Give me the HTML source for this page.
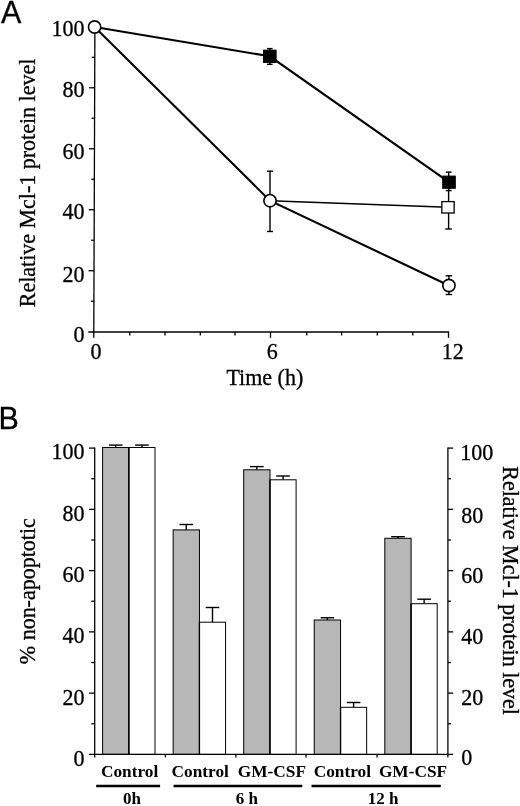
<!DOCTYPE html>
<html><head><meta charset="utf-8"><title>Figure</title>
<style>html,body{margin:0;padding:0;background:#fff;}body{width:520px;height:806px;overflow:hidden;}svg{display:block;will-change:transform;opacity:0.999;}
text{font-family:"Liberation Serif",serif;fill:#000;}
.sans{font-family:"Liberation Sans",sans-serif;}
.b{font-weight:bold;}
</style></head><body>
<svg width="520" height="806" viewBox="0 0 520 806">
<rect x="0" y="0" width="520" height="806" fill="#fff"/>
<text class="sans" transform="translate(0.9,22.9) scale(1,1.02)" font-size="30.5" stroke="#000" stroke-width="0.3">A</text>
<g stroke="#000" stroke-width="1.3" fill="none" stroke-linecap="butt">
<line x1="94.9" y1="27" x2="93.78" y2="337.8"/>
<line x1="88.3" y1="332.0" x2="449.15" y2="332.0"/>
<line x1="90.91" y1="301.21" x2="93.91" y2="301.21"/>
<line x1="88.52" y1="270.72" x2="94.02" y2="270.72"/>
<line x1="91.13" y1="240.23" x2="94.13" y2="240.23"/>
<line x1="88.74" y1="209.74" x2="94.24" y2="209.74"/>
<line x1="91.35" y1="179.25" x2="94.35" y2="179.25"/>
<line x1="88.96" y1="148.76" x2="94.46" y2="148.76"/>
<line x1="91.57" y1="118.27" x2="94.57" y2="118.27"/>
<line x1="89.18" y1="87.78" x2="94.68" y2="87.78"/>
<line x1="91.79" y1="57.29" x2="94.79" y2="57.29"/>
<line x1="89.40" y1="26.80" x2="94.90" y2="26.80"/>
<line x1="129.8" y1="332.0" x2="129.8" y2="335.5"/>
<line x1="165.0" y1="332.0" x2="165.0" y2="335.5"/>
<line x1="200.3" y1="332.0" x2="200.3" y2="335.5"/>
<line x1="235.0" y1="332.0" x2="235.0" y2="335.5"/>
<line x1="270.5" y1="332.0" x2="270.5" y2="337.8"/>
<line x1="306.8" y1="332.0" x2="306.8" y2="335.5"/>
<line x1="341.6" y1="332.0" x2="341.6" y2="335.5"/>
<line x1="377.3" y1="332.0" x2="377.3" y2="335.5"/>
<line x1="412.8" y1="332.0" x2="412.8" y2="335.5"/>
<line x1="448.5" y1="332.0" x2="448.5" y2="337.8"/>
</g>
<text transform="translate(84.4,35.5) scale(1,1.05)" font-size="22" text-anchor="end" stroke="#000" stroke-width="0.3">100</text>
<text transform="translate(84.4,97.4) scale(1,1.05)" font-size="22" text-anchor="end" stroke="#000" stroke-width="0.3">80</text>
<text transform="translate(84.4,158.6) scale(1,1.05)" font-size="22" text-anchor="end" stroke="#000" stroke-width="0.3">60</text>
<text transform="translate(84.4,219.3) scale(1,1.05)" font-size="22" text-anchor="end" stroke="#000" stroke-width="0.3">40</text>
<text transform="translate(84.4,281.5) scale(1,1.05)" font-size="22" text-anchor="end" stroke="#000" stroke-width="0.3">20</text>
<text transform="translate(84.4,342.3) scale(1,1.05)" font-size="22" text-anchor="end" stroke="#000" stroke-width="0.3">0</text>
<text transform="translate(90.4,359.1) scale(1,1.05)" font-size="22" stroke="#000" stroke-width="0.3">0</text>
<text transform="translate(266.8,359.1) scale(1,1.05)" font-size="22" stroke="#000" stroke-width="0.3">6</text>
<text transform="translate(441.8,359.1) scale(1,1.05)" font-size="22" stroke="#000" stroke-width="0.3">12</text>
<text transform="translate(264.8,385.2) scale(1,1.03)" font-size="22" text-anchor="middle" stroke="#000" stroke-width="0.3">Time (h)</text>
<text transform="translate(35.2,183) rotate(-90) scale(1,1.03)" font-size="22" text-anchor="middle" stroke="#000" stroke-width="0.3">Relative Mcl-1 protein level</text>
<polyline points="94.60,27.00 269.80,56.30 449.00,182.20" fill="none" stroke="#000" stroke-width="2.1"/>
<polyline points="94.60,27.00 270.00,200.70 448.90,285.50" fill="none" stroke="#000" stroke-width="2.1"/>
<polyline points="270.00,200.70 448.00,207.30" fill="none" stroke="#000" stroke-width="1.5"/>
<g stroke="#000" stroke-width="1.4"><line x1="269.80" y1="48.60" x2="269.80" y2="64.30"/><line x1="267.00" y1="48.60" x2="272.60" y2="48.60"/><line x1="267.00" y1="64.30" x2="272.60" y2="64.30"/></g>
<g stroke="#000" stroke-width="1.4"><line x1="448.70" y1="172.10" x2="448.70" y2="190.60"/><line x1="445.80" y1="172.10" x2="451.60" y2="172.10"/><line x1="445.80" y1="190.60" x2="451.60" y2="190.60"/></g>
<g stroke="#000" stroke-width="1.4"><line x1="270.00" y1="171.20" x2="270.00" y2="231.50"/><line x1="267.00" y1="171.20" x2="273.00" y2="171.20"/><line x1="267.00" y1="231.50" x2="273.00" y2="231.50"/></g>
<g stroke="#000" stroke-width="1.4"><line x1="448.60" y1="186.00" x2="448.60" y2="229.00"/><line x1="445.30" y1="186.00" x2="451.90" y2="186.00"/><line x1="445.30" y1="229.00" x2="451.90" y2="229.00"/></g>
<g stroke="#000" stroke-width="1.4"><line x1="448.90" y1="275.80" x2="448.90" y2="294.50"/><line x1="445.60" y1="275.80" x2="452.20" y2="275.80"/><line x1="445.60" y1="294.50" x2="452.20" y2="294.50"/></g>
<rect x="263.50" y="50.15" width="12.6" height="12.3" fill="#000" stroke="#000" stroke-width="1"/>
<rect x="442.70" y="176.10" width="12.6" height="12.2" fill="#000" stroke="#000" stroke-width="1"/>
<rect x="441.85" y="201.60" width="12.3" height="11.4" fill="#fff" stroke="#000" stroke-width="1.3"/>
<circle cx="94.60" cy="27.00" r="6.15" fill="#fff" stroke="#000" stroke-width="1.6"/>
<circle cx="270.00" cy="200.70" r="6.15" fill="#fff" stroke="#000" stroke-width="1.6"/>
<circle cx="448.90" cy="285.50" r="6.15" fill="#fff" stroke="#000" stroke-width="1.6"/>
<text class="sans" transform="translate(-1.6,428.8) scale(1,1.02)" font-size="30.5" stroke="#000" stroke-width="0.3">B</text>
<g stroke="#000" stroke-width="1.4"><line x1="115.75" y1="447.50" x2="115.75" y2="445.10"/><line x1="108.95" y1="445.10" x2="122.55" y2="445.10"/></g>
<g stroke="#000" stroke-width="1.4"><line x1="141.95" y1="447.50" x2="141.95" y2="445.10"/><line x1="135.15" y1="445.10" x2="148.75" y2="445.10"/></g>
<rect x="102.60" y="447.50" width="26.30" height="306.90" fill="#b7b7b7" stroke="#000" stroke-width="1.0"/>
<rect x="128.90" y="447.50" width="26.10" height="306.90" fill="#fff" stroke="#000" stroke-width="1.0"/>
<line x1="128.90" y1="447.50" x2="128.90" y2="754.4" stroke="#000" stroke-width="1.3"/>
<g stroke="#000" stroke-width="1.4"><line x1="186.30" y1="529.90" x2="186.30" y2="524.50"/><line x1="179.50" y1="524.50" x2="193.10" y2="524.50"/></g>
<g stroke="#000" stroke-width="1.4"><line x1="212.50" y1="622.20" x2="212.50" y2="607.50"/><line x1="205.70" y1="607.50" x2="219.30" y2="607.50"/></g>
<rect x="173.15" y="529.90" width="26.30" height="224.50" fill="#b7b7b7" stroke="#000" stroke-width="1.0"/>
<rect x="199.45" y="622.20" width="26.10" height="132.20" fill="#fff" stroke="#000" stroke-width="1.0"/>
<line x1="199.45" y1="622.20" x2="199.45" y2="754.4" stroke="#000" stroke-width="1.3"/>
<g stroke="#000" stroke-width="1.4"><line x1="256.85" y1="469.80" x2="256.85" y2="466.60"/><line x1="250.05" y1="466.60" x2="263.65" y2="466.60"/></g>
<g stroke="#000" stroke-width="1.4"><line x1="283.05" y1="479.80" x2="283.05" y2="476.00"/><line x1="276.25" y1="476.00" x2="289.85" y2="476.00"/></g>
<rect x="243.70" y="469.80" width="26.30" height="284.60" fill="#b7b7b7" stroke="#000" stroke-width="1.0"/>
<rect x="270.00" y="479.80" width="26.10" height="274.60" fill="#fff" stroke="#000" stroke-width="1.0"/>
<line x1="270.00" y1="479.80" x2="270.00" y2="754.4" stroke="#000" stroke-width="1.3"/>
<g stroke="#000" stroke-width="1.4"><line x1="327.40" y1="620.00" x2="327.40" y2="617.80"/><line x1="320.60" y1="617.80" x2="334.20" y2="617.80"/></g>
<g stroke="#000" stroke-width="1.4"><line x1="353.60" y1="707.30" x2="353.60" y2="702.50"/><line x1="346.80" y1="702.50" x2="360.40" y2="702.50"/></g>
<rect x="314.25" y="620.00" width="26.30" height="134.40" fill="#b7b7b7" stroke="#000" stroke-width="1.0"/>
<rect x="340.55" y="707.30" width="26.10" height="47.10" fill="#fff" stroke="#000" stroke-width="1.0"/>
<line x1="340.55" y1="707.30" x2="340.55" y2="754.4" stroke="#000" stroke-width="1.3"/>
<g stroke="#000" stroke-width="1.4"><line x1="397.95" y1="538.30" x2="397.95" y2="536.70"/><line x1="391.15" y1="536.70" x2="404.75" y2="536.70"/></g>
<g stroke="#000" stroke-width="1.4"><line x1="424.15" y1="603.70" x2="424.15" y2="599.20"/><line x1="417.35" y1="599.20" x2="430.95" y2="599.20"/></g>
<rect x="384.80" y="538.30" width="26.30" height="216.10" fill="#b7b7b7" stroke="#000" stroke-width="1.0"/>
<rect x="411.10" y="603.70" width="26.10" height="150.70" fill="#fff" stroke="#000" stroke-width="1.0"/>
<line x1="411.10" y1="603.70" x2="411.10" y2="754.4" stroke="#000" stroke-width="1.3"/>
<g stroke="#000" stroke-width="1.3" fill="none">
<line x1="94.7" y1="447.45000000000005" x2="94.7" y2="757.4"/>
<line x1="447.9" y1="447.45000000000005" x2="447.9" y2="757.4"/>
<line x1="88.9" y1="754.4" x2="453.09999999999997" y2="754.4"/>
<line x1="91.3" y1="723.77" x2="94.7" y2="723.77"/>
<line x1="447.9" y1="723.77" x2="450.99999999999994" y2="723.77"/>
<line x1="89.10000000000001" y1="693.14" x2="94.7" y2="693.14"/>
<line x1="447.9" y1="693.14" x2="453.2" y2="693.14"/>
<line x1="91.3" y1="662.51" x2="94.7" y2="662.51"/>
<line x1="447.9" y1="662.51" x2="450.99999999999994" y2="662.51"/>
<line x1="89.10000000000001" y1="631.88" x2="94.7" y2="631.88"/>
<line x1="447.9" y1="631.88" x2="453.2" y2="631.88"/>
<line x1="91.3" y1="601.25" x2="94.7" y2="601.25"/>
<line x1="447.9" y1="601.25" x2="450.99999999999994" y2="601.25"/>
<line x1="89.10000000000001" y1="570.62" x2="94.7" y2="570.62"/>
<line x1="447.9" y1="570.62" x2="453.2" y2="570.62"/>
<line x1="91.3" y1="539.99" x2="94.7" y2="539.99"/>
<line x1="447.9" y1="539.99" x2="450.99999999999994" y2="539.99"/>
<line x1="89.10000000000001" y1="509.36" x2="94.7" y2="509.36"/>
<line x1="447.9" y1="509.36" x2="453.2" y2="509.36"/>
<line x1="91.3" y1="478.73" x2="94.7" y2="478.73"/>
<line x1="447.9" y1="478.73" x2="450.99999999999994" y2="478.73"/>
<line x1="89.10000000000001" y1="448.10" x2="94.7" y2="448.10"/>
<line x1="447.9" y1="448.10" x2="453.2" y2="448.10"/>
<line x1="165.4" y1="754.4" x2="165.4" y2="757.4"/>
<line x1="235.9" y1="754.4" x2="235.9" y2="757.4"/>
<line x1="306.0" y1="754.4" x2="306.0" y2="757.4"/>
<line x1="377.1" y1="754.4" x2="377.1" y2="757.4"/>
</g>
<text transform="translate(84.4,459.0) scale(1,1.05)" font-size="22" text-anchor="end" stroke="#000" stroke-width="0.3">100</text>
<text transform="translate(460.2,459.5) scale(1,1.05)" font-size="22" stroke="#000" stroke-width="0.3">100</text>
<text transform="translate(84.4,520.6) scale(1,1.05)" font-size="22" text-anchor="end" stroke="#000" stroke-width="0.3">80</text>
<text transform="translate(461.3,522.6) scale(1,1.05)" font-size="22" stroke="#000" stroke-width="0.3">80</text>
<text transform="translate(84.4,582.3) scale(1,1.05)" font-size="22" text-anchor="end" stroke="#000" stroke-width="0.3">60</text>
<text transform="translate(461.3,583.0) scale(1,1.05)" font-size="22" stroke="#000" stroke-width="0.3">60</text>
<text transform="translate(84.4,643.4) scale(1,1.05)" font-size="22" text-anchor="end" stroke="#000" stroke-width="0.3">40</text>
<text transform="translate(461.3,643.5) scale(1,1.05)" font-size="22" stroke="#000" stroke-width="0.3">40</text>
<text transform="translate(84.4,704.9) scale(1,1.05)" font-size="22" text-anchor="end" stroke="#000" stroke-width="0.3">20</text>
<text transform="translate(461.3,705.0) scale(1,1.05)" font-size="22" stroke="#000" stroke-width="0.3">20</text>
<text transform="translate(84.4,766.1) scale(1,1.05)" font-size="22" text-anchor="end" stroke="#000" stroke-width="0.3">0</text>
<text transform="translate(461.3,765.4) scale(1,1.05)" font-size="22" stroke="#000" stroke-width="0.3">0</text>
<text transform="translate(35.0,591.2) rotate(-90) scale(1,1.03)" font-size="22" text-anchor="middle" stroke="#000" stroke-width="0.3">% non-apoptotic</text>
<text transform="translate(503.2,590.6) rotate(90) scale(1,1.03)" font-size="22" text-anchor="middle" stroke="#000" stroke-width="0.3">Relative Mcl-1 protein level</text>
<text class="b" transform="translate(129.6,776.9)" font-size="17.3" text-anchor="middle">Control</text>
<text class="b" transform="translate(200.2,776.9)" font-size="17.3" text-anchor="middle">Control</text>
<text class="b" transform="translate(271.9,776.9)" font-size="17.3" text-anchor="middle">GM-CSF</text>
<text class="b" transform="translate(342.3,776.9)" font-size="17.3" text-anchor="middle">Control</text>
<text class="b" transform="translate(413.0,776.9)" font-size="17.3" text-anchor="middle">GM-CSF</text>
<line x1="96.2" y1="786" x2="160.1" y2="786" stroke="#000" stroke-width="2.3"/>
<line x1="173.6" y1="786" x2="302.3" y2="786" stroke="#000" stroke-width="2.3"/>
<line x1="311.5" y1="786" x2="440.8" y2="786" stroke="#000" stroke-width="2.3"/>
<text class="b" transform="translate(131.9,803.9)" font-size="17" text-anchor="middle">0h</text>
<text class="b" transform="translate(246.9,803.9)" font-size="17" text-anchor="middle">6 h</text>
<text class="b" transform="translate(383.1,803.9)" font-size="17" text-anchor="middle">12 h</text>
</svg></body></html>
